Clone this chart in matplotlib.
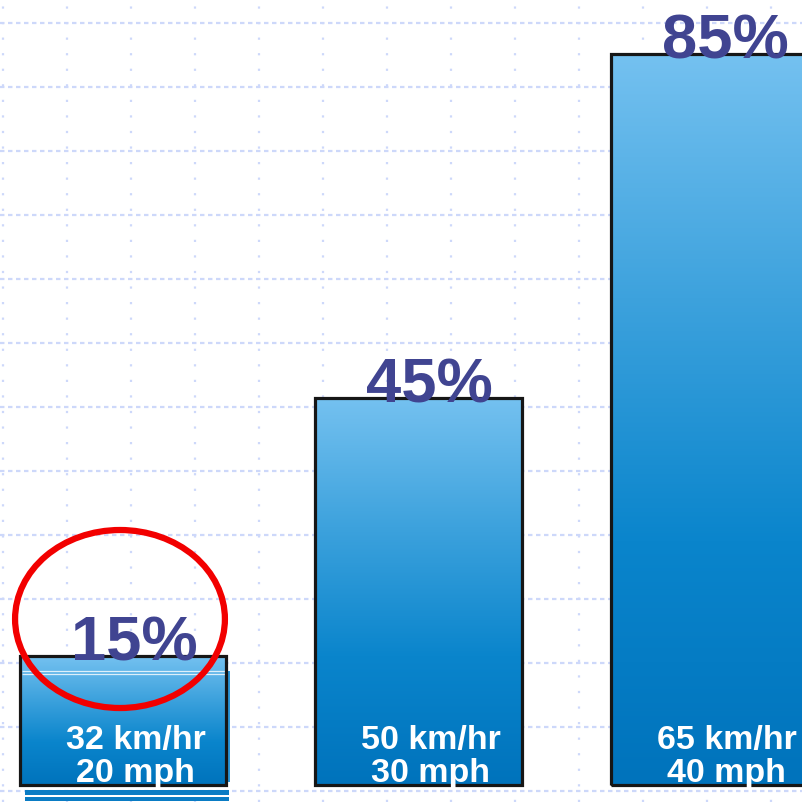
import numpy as np
import matplotlib.pyplot as plt
from matplotlib.patches import Ellipse
from matplotlib.colors import LinearSegmentedColormap

# ---------------- DATA ----------------
percents = [15, 45, 85]
pct_labels = ["15%", "45%", "85%"]
kmh_labels = ["32 km/hr", "50 km/hr", "65 km/hr"]
mph_labels = ["20 mph", "30 mph", "40 mph"]

# ---------------- STYLE ----------------
FONT = "Liberation Sans"
PCT_COLOR = "#404491"
GRID_COLOR = "#cdd8fa"
bar_cmap = LinearSegmentedColormap.from_list(
    "bar", ["#0073bc", "#0a85cc", "#3da2dd", "#74c1f0"])

W = 0.70
x = np.arange(len(percents))

fig = plt.figure(figsize=(8.03, 8.03), dpi=100)

# background grid, in pixel units
bg = fig.add_axes([0, 0, 1, 1])
bg.set_xlim(0, 803)
bg.set_ylim(803, 0)
bg.axis("off")
for gx in np.arange(3, 803, 64):
    bg.axvline(gx, color=GRID_COLOR, lw=1.6, ls=(0, (1, 6)))
for gy in np.arange(24, 803, 64):
    bg.axhline(gy, color=GRID_COLOR, lw=1.6, ls=(0, (2, 1.6)))

# bars
ax = fig.add_axes([0, 0, 1, 1], facecolor="none")
ax.set_xlim(-0.416, 2.301)
ax.set_ylim(-1.98, 91.4)
ax.axis("off")

grad = np.linspace(0, 1, 256).reshape(-1, 1)
bars = ax.bar(x, percents, width=W, color="none", edgecolor="#161616",
              linewidth=2.3, zorder=3)
for b in bars:
    x0, y0 = b.get_x(), b.get_y()
    im = ax.imshow(grad, cmap=bar_cmap, origin="lower", aspect="auto",
                   extent=[x0, x0 + b.get_width(), y0, y0 + b.get_height()],
                   zorder=2)
    im.set_clip_path(b)

# rendering leftovers around the first bar
ax.bar(x[0] + 0.0135, 0.58, width=0.69, bottom=-1.16, color="#0a7cc4", zorder=1)
ax.bar(x[0] + 0.0135, 0.46, width=0.69, bottom=-1.86, color="#0a7cc4", zorder=1)
ax.bar(x[0] + W / 2 + 0.006, percents[0] - 2.0, width=0.012, bottom=0.3,
       color="#2a95d6", zorder=1)
for dy in [-1.75, -2.1]:
    ax.hlines(percents[0] + dy, x[0] - W / 2 + 0.01, x[0] + W / 2 - 0.005,
              color="white", lw=0.9, alpha=0.8, zorder=2.5)

for xi, p, pl, k, m in zip(x, percents, pct_labels, kmh_labels, mph_labels):
    ax.text(xi + 0.038, p - 0.45, pl, ha="center", va="baseline",
            fontsize=45.5, fontweight="bold", family=FONT, color=PCT_COLOR,
            zorder=5)
    ax.text(xi + 0.043, 4.3, k, ha="center", va="baseline",
            fontsize=24.5, fontweight="bold", family=FONT, color="white",
            zorder=5)
    ax.text(xi + 0.042, 0.45, m, ha="center", va="baseline",
            fontsize=24.5, fontweight="bold", family=FONT, color="white",
            zorder=5)

# red highlight around the first value
ax.add_patch(Ellipse((x[0] - 0.01, percents[0] + 4.3), 0.71, 20.7,
                     fill=False, edgecolor="#f20000", lw=4.5, zorder=6))

fig.savefig("out.png", dpi=100)
